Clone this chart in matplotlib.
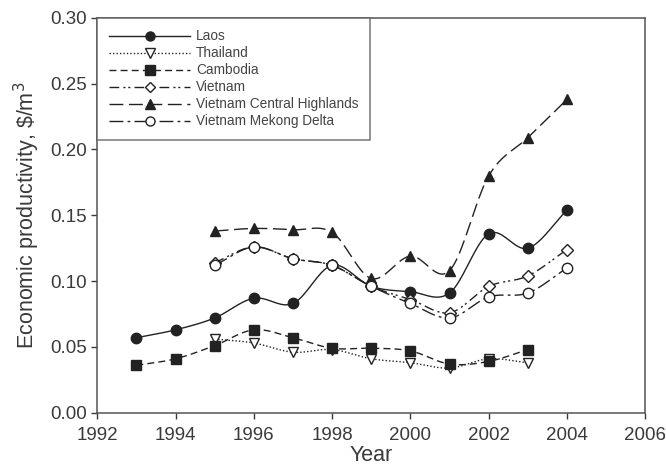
import numpy as np
import matplotlib
matplotlib.use("Agg")
import matplotlib.pyplot as plt

plt.rcParams['font.family'] = ['Liberation Sans', 'DejaVu Sans']

years_laos = [1993, 1994, 1995, 1996, 1997, 1998, 1999, 2000, 2001, 2002, 2003, 2004]
laos = [0.057, 0.063, 0.072, 0.087, 0.083, 0.112, 0.096, 0.092, 0.091, 0.136, 0.125, 0.154]

years_thai = [1995, 1996, 1997, 1998, 1999, 2000, 2001, 2002, 2003]
thailand = [0.056, 0.053, 0.046, 0.048, 0.041, 0.038, 0.034, 0.041, 0.038]

years_camb = [1993, 1994, 1995, 1996, 1997, 1998, 1999, 2000, 2001, 2002, 2003]
cambodia = [0.036, 0.041, 0.051, 0.063, 0.057, 0.049, 0.049, 0.047, 0.037, 0.039, 0.048]

years_vn = [1995, 1996, 1997, 1998, 1999, 2000, 2001, 2002, 2003, 2004]
vietnam = [0.114, 0.126, 0.117, 0.112, 0.096, 0.086, 0.076, 0.096, 0.104, 0.124]
central_highlands = [0.138, 0.140, 0.139, 0.137, 0.102, 0.119, 0.108, 0.180, 0.209, 0.238]
mekong_delta = [0.112, 0.126, 0.117, 0.112, 0.096, 0.083, 0.072, 0.088, 0.091, 0.110]


def smooth(x, y, n=20):
    """Catmull-Rom curve through the given points."""
    x = np.asarray(x, float)
    y = np.asarray(y, float)
    px = np.concatenate([[2 * x[0] - x[1]], x, [2 * x[-1] - x[-2]]])
    py = np.concatenate([[2 * y[0] - y[1]], y, [2 * y[-1] - y[-2]]])
    xs, ys = [], []
    t = np.linspace(0, 1, n, endpoint=False)
    for i in range(1, len(px) - 2):
        for arr, out in ((px, xs), (py, ys)):
            p0, p1, p2, p3 = arr[i - 1], arr[i], arr[i + 1], arr[i + 2]
            out.append(0.5 * (2 * p1 + (-p0 + p2) * t
                              + (2 * p0 - 5 * p1 + 4 * p2 - p3) * t ** 2
                              + (-p0 + 3 * p1 - 3 * p2 + p3) * t ** 3))
    xs.append([x[-1]])
    ys.append([y[-1]])
    return np.concatenate(xs), np.concatenate(ys)


fig = plt.figure(figsize=(6.66, 4.68), dpi=100)
ax = fig.add_axes([0.146, 0.118, 0.823, 0.844])

lc = '#222222'
tc = '#3a3a3a'
series = [
    ("Laos", years_laos, laos, '-', 'o', lc),
    ("Thailand", years_thai, thailand, (0, (1, 1.5)), 'v', 'white'),
    ("Cambodia", years_camb, cambodia, (0, (5, 3)), 's', lc),
    ("Vietnam", years_vn, vietnam, (0, (7, 3, 1.5, 2, 1.5, 3)), 'D', 'white'),
    ("Vietnam Central Highlands", years_vn, central_highlands, (0, (10, 4)), '^', lc),
    ("Vietnam Mekong Delta", years_vn, mekong_delta, (0, (10, 3, 2, 3)), 'o', 'white'),
]

for name, xs, ys, ls, mk, fc in series:
    sx, sy = smooth(xs, ys)
    ax.plot(sx, sy, color=lc, lw=1.0, ls=ls)
    ms = 6 if mk == 'D' else 7.5
    ax.plot(xs, ys, ls='none', marker=mk, ms=ms, mfc=fc, mec=lc, mew=1.0)
    ax.plot([], [], color=lc, lw=1.0, ls=ls, marker=mk, ms=ms - 1, mfc=fc,
            mec=lc, mew=1.0, label=name)

ax.set_xlim(1992, 2006)
ax.set_ylim(0, 0.30)
ax.set_xticks(np.arange(1992, 2007, 2))
ax.set_yticks(np.arange(0, 0.31, 0.05))
ax.set_yticklabels([f"{v:.2f}" for v in np.arange(0, 0.31, 0.05)])
ax.tick_params(direction='out', length=4, width=1, labelsize=13.5, colors=tc)
ax.tick_params(axis='x', pad=6)
for s in ax.spines.values():
    s.set_color('#555555')
    s.set_linewidth(1.1)

ax.set_xlabel("Year", fontsize=15.5, labelpad=1, color=tc)
ax.set_ylabel("Economic productivity, \\$/m$^3$", fontsize=15.5, labelpad=6, color=tc)

leg = ax.legend(loc='upper left', bbox_to_anchor=(0, 1), fontsize=9.8, frameon=True,
                fancybox=False, handlelength=6.0, borderaxespad=0, handletextpad=0.4,
                labelspacing=0.22, borderpad=0.85)
leg.get_frame().set_edgecolor('#555555')
leg.get_frame().set_linewidth(1.1)
for t in leg.get_texts():
    t.set_color('#444444')

fig.savefig("out.png", dpi=100)
